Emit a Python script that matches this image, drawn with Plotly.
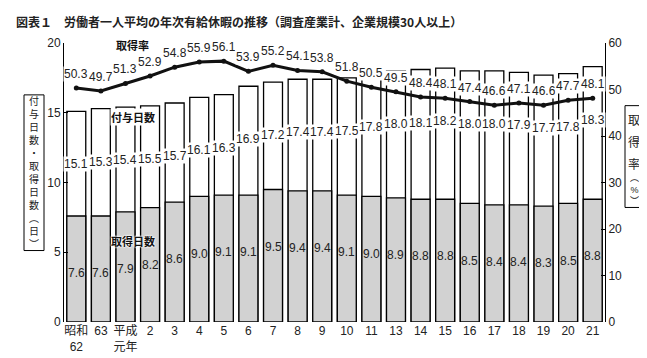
import plotly.graph_objects as go

categories = ["昭和<br>62", "63", "平成<br>元年", "2", "3", "4", "5", "6", "7", "8", "9", "10",
              "11", "13", "14", "15", "16", "17", "18", "19", "20", "21"]
granted_days = [15.1, 15.3, 15.4, 15.5, 15.7, 16.1, 16.3, 16.9, 17.2, 17.4, 17.4, 17.5,
                17.8, 18.0, 18.1, 18.2, 18.0, 18.0, 17.9, 17.7, 17.8, 18.3]
taken_days = [7.6, 7.6, 7.9, 8.2, 8.6, 9.0, 9.1, 9.1, 9.5, 9.4, 9.4, 9.1,
              9.0, 8.9, 8.8, 8.8, 8.5, 8.4, 8.4, 8.3, 8.5, 8.8]
take_rate = [50.3, 49.7, 51.3, 52.9, 54.8, 55.9, 56.1, 53.9, 55.2, 54.1, 53.8, 51.8,
             50.5, 49.5, 48.4, 48.1, 47.4, 46.6, 47.1, 46.6, 47.7, 48.1]

title = "図表１　労働者一人平均の年次有給休暇の推移（調査産業計、企業規模30人以上）"
left_title = "付<br>与<br>日<br>数<br>・<br>取<br>得<br>日<br>数<br>︵<br>日<br>︶"
right_title_chars = ["取", "得", "率"]
right_title_tail = "︵<br>%<br>︶"

FONT = "Liberation Sans, Arial, Noto Sans CJK JP"
CJK = "Noto Sans CJK JP"

x = list(range(len(categories)))

fig = go.Figure()
fig.add_trace(go.Bar(x=x, y=granted_days, marker=dict(color="white", line=dict(color="black", width=1.3)),
                     hoverinfo="skip", showlegend=False))
fig.add_trace(go.Bar(x=x, y=taken_days, marker=dict(color="#d2d2d2", line=dict(color="black", width=1.3)),
                     hoverinfo="skip", showlegend=False))
fig.add_trace(go.Scatter(x=x, y=take_rate, yaxis="y2", mode="lines+markers",
                         line=dict(color="#111", width=3), marker=dict(color="#111", size=5),
                         hoverinfo="skip", showlegend=False))

ann = []
for i in x:
    ann.append(dict(x=i, y=granted_days[i] - 3.8, xref="x", yref="y", text=f"{granted_days[i]:.1f}",
                    showarrow=False, bgcolor="white", borderpad=0,
                    font=dict(family=FONT, size=12, color="#222")))
    ann.append(dict(x=i, y=taken_days[i] - 4.1, xref="x", yref="y", text=f"{taken_days[i]:.1f}",
                    showarrow=False, borderpad=0,
                    font=dict(family=FONT, size=12, color="#222")))
    ann.append(dict(x=i, y=take_rate[i], xref="x", yref="y2", text=f"{take_rate[i]:.1f}",
                    showarrow=False, yshift=14, bgcolor="white", borderpad=0,
                    font=dict(family=FONT, size=12, color="#222")))

# series name labels
ann.append(dict(x=2.3, y=59.6, xref="x", yref="y2", text="<b>取得率</b>", showarrow=False,
                font=dict(family=CJK, size=11, color="#111")))
ann.append(dict(x=2.3, y=14.7, xref="x", yref="y", text="<b>付与日数</b>", showarrow=False,
                bgcolor="white", borderpad=0, font=dict(family=CJK, size=11, color="#111")))
ann.append(dict(x=2.3, y=5.8, xref="x", yref="y", text="<b>取得日数</b>", showarrow=False,
                font=dict(family=CJK, size=11, color="#111", shadow="0 0 2px white, 0 0 2px white, 0 0 2px white")))

L, T, H, W = 56, 35, 285, 541
def px(xp):
    return (xp - L) / W
def py(yp):
    return (T + H - yp) / H

# title
ann.append(dict(x=px(6), y=py(13), xref="paper", yref="paper", xanchor="left", yanchor="middle",
                text="<b>" + title + "</b>", showarrow=False, font=dict(family=CJK, size=12, color="#222")))

# left axis title (vertical)
ann.append(dict(x=px(26), y=py(167), xref="paper", yref="paper", xanchor="center", yanchor="middle",
                text=left_title, showarrow=False, font=dict(family=FONT, size=10, color="#222")))

# right axis title (vertical)
right_y = [113, 136, 158]
for ch, yy in zip(right_title_chars, right_y):
    ann.append(dict(x=px(626), y=py(yy), xref="paper", yref="paper", xanchor="center", yanchor="middle",
                    text=ch, showarrow=False, font=dict(family=CJK, size=12, color="#222")))
ann.append(dict(x=px(626), y=py(185), xref="paper", yref="paper", xanchor="center", yanchor="middle",
                text=right_title_tail, showarrow=False, font=dict(family=FONT, size=9, color="#222")))

shapes = [
    dict(type="rect", xref="paper", yref="paper", x0=px(16), x1=px(36), y0=py(247), y1=py(88),
         line=dict(color="black", width=1)),
    dict(type="rect", xref="paper", yref="paper", x0=px(617), x1=px(635), y0=py(203), y1=py(99),
         line=dict(color="black", width=1)),
]

fig.update_layout(
    width=647, height=358,
    margin=dict(l=L, r=647 - L - W, t=T, b=358 - T - H),
    paper_bgcolor="white", plot_bgcolor="white",
    barmode="overlay", bargap=0.23,
    font=dict(family=FONT, size=12, color="#222"),
    xaxis=dict(range=[-0.5, len(categories) - 0.5], tickvals=x, ticktext=categories,
               showline=False, ticks="", showgrid=False, zeroline=False,
               tickfont=dict(family=FONT, size=12, color="#222")),
    yaxis=dict(range=[0, 20], tickvals=[0, 5, 10, 15, 20], showline=True, linecolor="black", linewidth=1,
               ticks="inside", ticklen=4, tickcolor="black", showgrid=False, zeroline=False,
               tickfont=dict(family=FONT, size=12, color="#222")),
    yaxis2=dict(range=[0, 60], tickvals=[0, 10, 20, 30, 40, 50, 60], overlaying="y", side="right",
                showline=True, linecolor="black", linewidth=1, ticks="inside", ticklen=4,
                tickcolor="black", showgrid=False, zeroline=False,
                tickfont=dict(family=FONT, size=12, color="#222")),
    annotations=ann, shapes=shapes,
)

fig.write_html("out.html")
